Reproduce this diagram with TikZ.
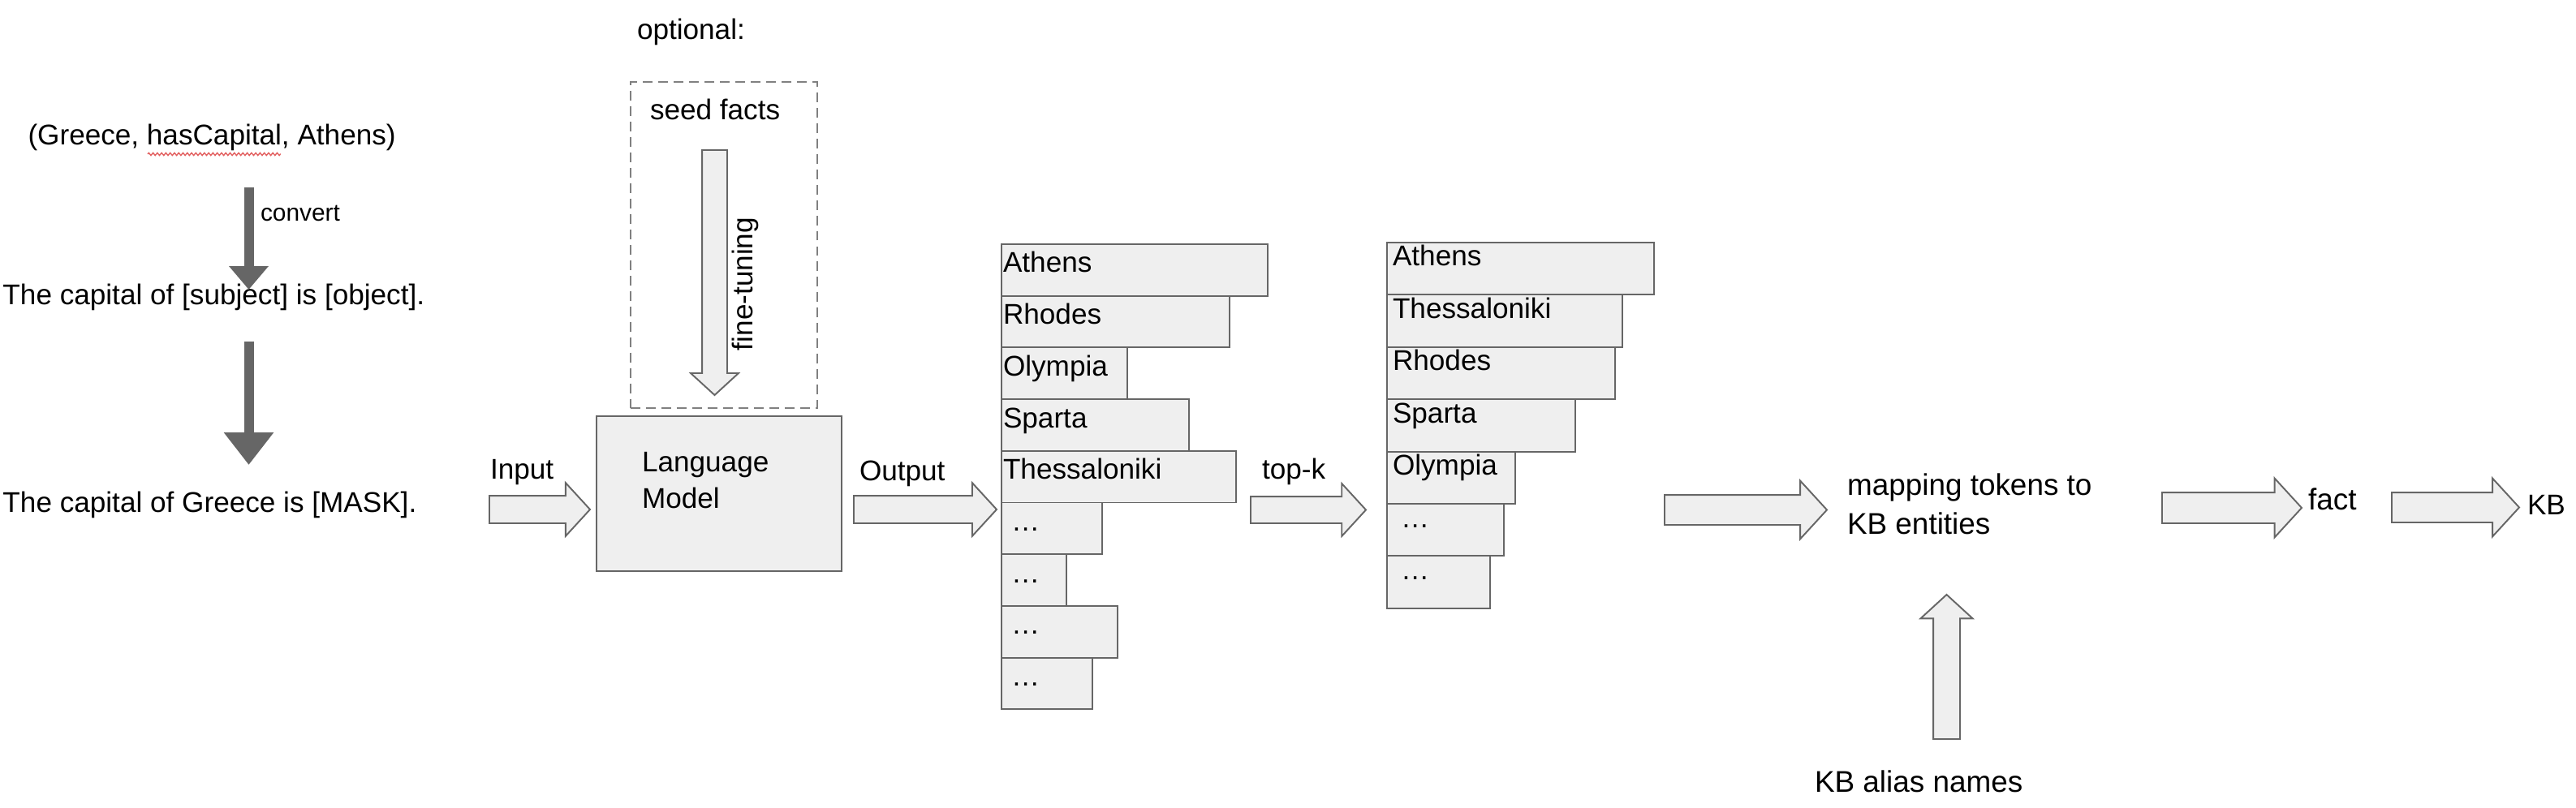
\documentclass[tikz,border=0pt]{standalone}
\usepackage{fontspec}
\setmainfont{Liberation Sans}
\usetikzlibrary{arrows.meta,positioning,shapes.arrows,decorations.pathmorphing}
\definecolor{boxfill}{RGB}{239,239,239}
\definecolor{boxline}{RGB}{102,102,102}
\definecolor{dashgray}{RGB}{128,128,128}
\definecolor{spellred}{RGB}{226,96,96}
\newcommand{\more}{\hspace*{0.1cm}…}

\begin{document}
\begin{tikzpicture}[
  every node/.style={font=\fontsize{10pt}{12.8pt}\selectfont,inner sep=0pt,outer sep=0pt},
  plain/.style={anchor=base west,text height=0.26cm,text depth=0.08cm},
  big/.style={font=\fontsize{10.5pt}{13.7pt}\selectfont},
  convarr/.style={line width=0.12cm,draw=boxline},
  blockarr/.style={single arrow,draw=boxline,fill=boxfill,line width=0.55pt,anchor=tail,minimum width=0pt,inner xsep=0pt,inner ysep=0.16cm,single arrow head extend=0.16cm,single arrow tip angle=95},
  widearr/.style={blockarr,inner ysep=0.175cm,single arrow head extend=0.175cm},
  tokA/.style={draw=boxline,fill=boxfill,line width=0.55pt,anchor=north west,align=left,inner xsep=0.02cm,text height=0.35cm,text depth=0.287cm},
  tokB/.style={draw=boxline,fill=boxfill,line width=0.55pt,anchor=north west,align=left,inner xsep=0.07cm,text height=0.29cm,text depth=0.354cm}
]
\useasboundingbox (0,0) rectangle (31.74,-9.96);

% triple -> template -> query
\node[plain] (triple) at (0.345,-1.79) {(Greece, hasCapital, Athens)};
\draw[spellred,line width=0.4pt,decorate,decoration={zigzag,segment length=1.5pt,amplitude=0.45pt}] (1.82,-1.90) -- (3.46,-1.90);
\node[plain] (tmpl) at (0.035,-3.76) {The capital of [subject] is [object].};
\node[plain] (masked) at (0.035,-6.31) {The capital of Greece is [MASK].};
\coordinate (ax) at (3.065,0);
\draw[convarr,-{Triangle[width=0.47cm,length=0.29cm]},shorten <=0.44cm,shorten >=-0.07cm] (triple.south -| ax) -- (tmpl.north -| ax);
\draw[convarr,-{Triangle[width=0.59cm,length=0.40cm]},shorten <=0.37cm,shorten >=0.32cm] (tmpl.south -| ax) -- (masked.north -| ax);
\node[plain,font=\fontsize{8.5pt}{10pt}\selectfont] (conv) at (3.21,-2.73) {convert};

% optional fine-tuning
\node[plain] (opt) at (7.85,-0.49) {optional:};
\node[draw=dashgray,dash pattern=on 3.4pt off 2pt,line width=0.55pt,minimum width=2.30cm,minimum height=4.02cm] (optbox) at (8.92,-3.02) {};
\node[plain] (seed) at (8.01,-1.48) {seed facts};
\node[blockarr,rotate=-90,inner ysep=0.145cm,single arrow head extend=0.14cm,minimum height=3.02cm] (ftarr) at (8.805,-1.85) {};
\node[plain,anchor=base,rotate=90] (ft) at (9.27,-3.50) {fine-tuning};

% language model
\node[draw=boxline,fill=boxfill,line width=0.55pt,minimum width=3.02cm,minimum height=1.91cm] (lm) at (8.86,-6.085) {};
\node[anchor=north west,align=left] (lmtxt) at (7.91,-5.57) {Language\\Model};
\node[blockarr,minimum height=1.24cm] (inarr) at (6.03,-6.28) {};
\node[plain] (inlbl) at (6.04,-5.90) {Input};
\node[blockarr,minimum height=1.76cm] (outarr) at (10.52,-6.28) {};
\node[plain] (outlbl) at (10.59,-5.92) {Output};

% predicted tokens
\node[tokA,text width=3.24cm] (o1) at (12.34,-3.01) {Athens};
\node[tokA,text width=2.77cm] (o2) at (o1.south west) {Rhodes};
\node[tokA,text width=1.51cm] (o3) at (o2.south west) {Olympia};
\node[tokA,text width=2.27cm] (o4) at (o3.south west) {Sparta};
\node[tokA,text width=2.85cm] (o5) at (o4.south west) {Thessaloniki};
\node[tokA,text width=1.20cm] (o6) at (o5.south west) {\more};
\node[tokA,text width=0.76cm] (o7) at (o6.south west) {\more};
\node[tokA,text width=1.39cm] (o8) at (o7.south west) {\more};
\node[tokA,text width=1.08cm] (o9) at (o8.south west) {\more};

\node[blockarr,inner ysep=0.155cm,minimum height=1.42cm] (topkarr) at (15.41,-6.285) {};
\node[plain] (topk) at (15.55,-5.90) {top-k};

% top-k tokens
\node[tokB,text width=3.15cm] (t1) at (17.09,-2.99) {Athens};
\node[tokB,text width=2.76cm] (t2) at (t1.south west) {Thessaloniki};
\node[tokB,text width=2.67cm] (t3) at (t2.south west) {Rhodes};
\node[tokB,text width=2.18cm] (t4) at (t3.south west) {Sparta};
\node[tokB,text width=1.44cm] (t5) at (t4.south west) {Olympia};
\node[tokB,text width=1.30cm] (t6) at (t5.south west) {\more};
\node[tokB,text width=1.13cm] (t7) at (t6.south west) {\more};

% mapping to the KB
\node[widearr,minimum height=2.00cm] (maparr) at (20.51,-6.285) {};
\node[big,anchor=north west,align=left] (map) at (22.76,-5.84) {mapping tokens to\\KB entities};
\node[blockarr,rotate=90,inner ysep=0.155cm,single arrow head extend=0.155cm,minimum height=1.78cm] (aliasarr) at (23.985,-9.11) {};
\node[plain,big] (alias) at (22.36,-9.76) {KB alias names};
\node[widearr,inner ysep=0.18cm,minimum height=1.72cm] (factarr) at (26.64,-6.26) {};
\node[plain,big] (fact) at (28.44,-6.28) {fact};
\node[widearr,minimum height=1.57cm] (kbarr) at (29.47,-6.255) {};
\node[plain] (kb) at (31.14,-6.34) {KB};
\end{tikzpicture}
\end{document}
